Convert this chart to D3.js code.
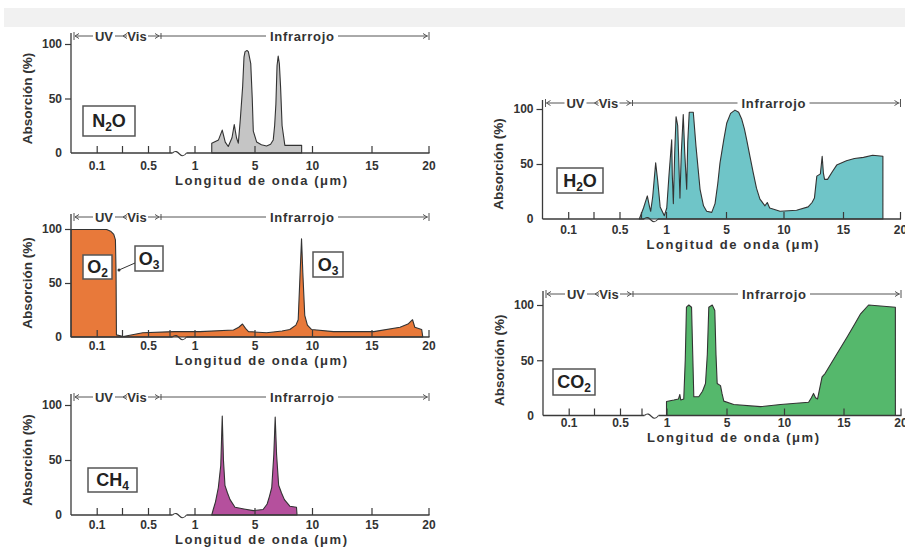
<!DOCTYPE html>
<html><head><meta charset="utf-8">
<script src="https://cdn.jsdelivr.net/npm/d3@7"></script>
<style>
body{margin:0;background:#fff;}
svg{display:block;font-family:"Liberation Sans",Arial,Helvetica,sans-serif;}
</style></head>
<body><svg id="c" width="905" height="554"></svg>
<script>
// ---------- data ----------
const xTickValues = [0.1, 0.3, 0.5, 0.7, 1, 5, 10, 15, 20];
const xTickLabels = ["0.1", "", "0.5", "", "1", "5", "10", "15", "20"];
const yTickValues = [0, 50, 100];
const bandLabels = ["UV", "Vis", "Infrarrojo"];
const xTitle = "Longitud de onda  (\u03bcm)";
const yTitle = "Absorci\u00f3n (%)";

// [wavelength (um), absorption (%)]
const n2oData = [[2.15,0],[2.15,9],[2.6,12],[2.85,21],[3.05,10],[3.25,6],[3.5,14],[3.65,26],[3.8,14],[3.92,9],[4.05,30],[4.21,61],[4.3,88],[4.37,93],[4.5,94],[4.59,93],[4.75,82],[4.85,50],[4.92,20],[5.19,10],[5.6,7.5],[6.05,6.5],[6.4,8],[6.63,12],[6.75,25],[6.86,45],[6.96,80],[7.06,89],[7.16,82],[7.27,60],[7.4,25],[7.64,7],[8.5,7],[9.1,7],[9.1,0]];
const o2o3Data = [[0,99.5],[0.179,99.5],[0.21,98],[0.235,95],[0.248,90],[0.253,60],[0.256,2],[0.31,0.5],[0.46,4],[0.76,5],[1.37,5],[3.6,6.5],[3.95,9],[4.2,12],[4.4,8],[4.6,5],[6.05,4],[7.4,5.5],[8.07,7],[8.6,11],[8.8,16],[8.95,55],[9.09,91],[9.2,60],[9.37,20],[9.6,11],[9.95,7],[11.8,5],[15.2,5],[17.5,9],[18.2,12],[18.6,16],[18.8,9],[19.4,7],[19.5,0]];
const ch4Data = [[2.15,0],[2.25,5],[2.4,12],[2.59,25],[2.75,45],[2.85,90],[2.93,50],[3.03,27],[3.2,20],[3.37,14],[3.7,7],[4.3,5.5],[4.92,4],[5.75,5],[6.1,10],[6.3,17],[6.5,25],[6.68,55],[6.8,89],[6.92,55],[7.1,27],[7.35,20],[7.6,14],[8.07,8],[8.65,7],[8.7,0]];
const h2oData = [[0.684,0],[0.73,10],[0.776,21],[0.8,12],[0.816,7],[0.84,20],[0.876,51],[0.9,35],[0.93,11],[0.98,3],[1.05,10],[1.2,40],[1.38,72],[1.42,40],[1.49,14],[1.58,60],[1.67,93],[1.78,85],[1.93,19],[2.02,60],[2.15,95],[2.25,60],[2.38,27],[2.45,70],[2.55,97],[2.82,97],[3.0,66],[3.27,27],[3.5,12],[3.71,7],[4.05,6],[4.27,14],[4.45,32],[4.6,51],[4.85,72],[5.06,87],[5.4,96],[5.78,99],[6.1,97],[6.36,91],[6.6,82],[6.8,72],[7.1,56],[7.37,42],[7.65,28],[7.95,18],[8.39,12],[8.59,15],[8.8,10],[9.7,7],[11.1,8],[12.07,11],[12.4,15],[12.6,19],[12.8,39],[13.1,41],[13.25,57],[13.35,42],[13.45,36],[13.7,36],[14.1,43],[14.47,49],[15.3,53],[16.0,55],[16.8,56],[17.6,58],[18.5,57],[18.5,0]];
const co2Data = [[1.0,0],[1.0,12.6],[1.49,14],[1.8,15],[1.89,19],[1.95,14],[2.15,15],[2.25,50],[2.33,98],[2.49,100],[2.67,98],[2.75,55],[2.82,17],[3.15,17],[3.4,22],[3.6,29],[3.72,55],[3.82,98],[4.05,100],[4.22,95],[4.3,55],[4.38,29],[4.6,27],[4.7,20],[4.82,13],[5.63,10],[7.95,8],[9.7,10],[12.07,12],[12.3,16],[12.48,20],[12.65,16],[12.82,15],[13.2,35],[13.45,38],[14.4,55],[15.32,71],[16.0,83],[16.5,92],[17.2,100],[19.55,98],[19.55,0]];

// ---------- layout ----------
const xDomain = [0, 0.1, 0.3, 0.5, 0.7, 1, 5, 10, 15, 20];
const xRangeRel = [0, 25.7, 51, 77, 98.5, 123.5, 183.5, 241, 300.5, 357.5];

const panels = [
  {name:"N2O", data:n2oData, fill:"#c5c5c5", x0:71, y0:153, y100:44, band:36, lab:170, tit:185,
   boxes:[{x:83,y:106,w:52,h:30,main:"N",sub:"2",post:"O"}]},
  {name:"O3", data:o2o3Data, fill:"#e8793a", x0:71, y0:337, y100:229, band:217, lab:350, tit:365,
   boxes:[{x:83,y:255,w:29,h:24,main:"O",sub:"2",post:""},{x:135,y:246,w:28,h:25,main:"O",sub:"3",post:""},{x:313,y:252,w:30,h:25,main:"O",sub:"3",post:""}]},
  {name:"CH4", data:ch4Data, fill:"#b5509d", x0:71, y0:515, y100:405, band:397, lab:529, tit:544,
   boxes:[{x:88,y:468,w:49,h:24,main:"CH",sub:"4",post:""}]},
  {name:"H2O", data:h2oData, fill:"#6fc5c8", x0:542.5, y0:219, y100:109, band:103, lab:234, tit:249,
   boxes:[{x:557,y:168,w:46,h:25,main:"H",sub:"2",post:"O"}]},
  {name:"CO2", data:co2Data, fill:"#55b86c", x0:543, y0:415.5, y100:305, band:294, lab:427, tit:442,
   boxes:[{x:553,y:369,w:42,h:26,main:"CO",sub:"2",post:""}]}
];

const svg = d3.select("#c");
svg.append("rect").attr("x",4).attr("y",8).attr("width",901).attr("height",19).attr("fill","#f1f1f1");

const ink = "#3a3a3a";

panels.forEach(p => {
  const x = d3.scaleLinear().domain(xDomain).range(xRangeRel.map(r => r + p.x0));
  const y = d3.scaleLinear().domain([0,100]).range([p.y0, p.y100]);
  const g = svg.append("g");

  // area
  const area = d3.area().x(d => x(d[0])).y0(y(0)).y1(d => y(d[1]));
  g.append("path").datum(p.data).attr("d", area)
    .attr("fill", p.fill).attr("stroke", "#333").attr("stroke-width", 1.1).attr("stroke-linejoin","round");

  // x axis (ticks upward)
  const xa = d3.axisBottom(x).tickValues(xTickValues).tickSizeInner(-7).tickSizeOuter(0)
    .tickFormat((d,i) => xTickLabels[i]);
  const gx = g.append("g").attr("transform", `translate(0,${p.y0})`).call(xa);
  gx.select(".domain").remove();
  gx.selectAll(".tick line").attr("stroke", ink).attr("stroke-width", 1.2);
  gx.selectAll(".tick text").attr("y", p.lab - p.y0).attr("dy", 0)
    .attr("font-size", 12).attr("font-weight", "bold").attr("fill", "#333")
    .attr("font-family", "Liberation Sans, Arial, sans-serif");

  // x axis line with break
  const xb1 = x(0.7) + 3, xb2 = x(1) - 8;
  g.append("line").attr("x1", p.x0).attr("x2", xb1).attr("y1", p.y0).attr("y2", p.y0).attr("stroke", ink).attr("stroke-width",1.3);
  g.append("line").attr("x1", xb2).attr("x2", x(20)+1).attr("y1", p.y0).attr("y2", p.y0).attr("stroke", ink).attr("stroke-width",1.3);
  g.append("path").attr("d", `M${xb1},${p.y0} C${xb1+3},${p.y0-3} ${xb1+5},${p.y0-1} ${xb1+7},${p.y0+1} S${xb2-3},${p.y0+4} ${xb2},${p.y0}`)
    .attr("fill","none").attr("stroke", ink).attr("stroke-width",1.1);

  // y axis
  const ya = d3.axisLeft(y).tickValues(yTickValues).tickSizeInner(6).tickSizeOuter(0).tickFormat(d3.format("d"));
  const gy = g.append("g").attr("transform", `translate(${p.x0},0)`).call(ya);
  gy.select(".domain").remove();
  gy.selectAll(".tick line").attr("stroke", ink).attr("stroke-width",1.2).attr("opacity", d => d===0 ? 0 : 1);
  gy.selectAll(".tick text").attr("x", -9).attr("font-size", 12).attr("font-weight","bold").attr("fill","#333")
    .attr("font-family", "Liberation Sans, Arial, sans-serif");
  g.append("line").attr("x1", p.x0).attr("x2", p.x0).attr("y1", p.band - 3).attr("y2", p.y0).attr("stroke", ink).attr("stroke-width",1.3);

  // band
  const bg = g.append("g").attr("stroke", "#555").attr("stroke-width", 1).attr("fill","none");
  const by = p.band;
  const X = r => p.x0 + r;
  const arrowL = (ax) => bg.append("path").attr("d", `M${ax+4},${by-2.5} L${ax},${by} L${ax+4},${by+2.5}`);
  const arrowR = (ax) => bg.append("path").attr("d", `M${ax-4},${by-2.5} L${ax},${by} L${ax-4},${by+2.5}`);
  bg.append("line").attr("x1", X(3)).attr("x2", X(3)).attr("y1", by-4).attr("y2", by+4);
  bg.append("line").attr("x1", X(4)).attr("x2", X(22)).attr("y1", by).attr("y2", by); arrowL(X(4));
  bg.append("line").attr("x1", X(44)).attr("x2", X(56)).attr("y1", by).attr("y2", by); arrowL(X(52));
  bg.append("line").attr("x1", X(77)).attr("x2", X(195)).attr("y1", by).attr("y2", by); arrowR(X(88));
  bg.append("line").attr("x1", X(90)).attr("x2", X(90)).attr("y1", by-3).attr("y2", by+3);
  bg.append("line").attr("x1", X(267)).attr("x2", X(357)).attr("y1", by).attr("y2", by); arrowR(X(356));
  bg.append("line").attr("x1", X(358)).attr("x2", X(358)).attr("y1", by-4).attr("y2", by+4);
  const tg = g.append("g").attr("font-size", 13).attr("font-weight","bold").attr("fill","#333").attr("text-anchor","middle");
  tg.append("text").attr("x", X(33)).attr("y", by+4.5).text(bandLabels[0]);
  tg.append("text").attr("x", X(66)).attr("y", by+4.5).text(bandLabels[1]);
  tg.append("text").attr("x", X(231)).attr("y", by+4.5).attr("textLength", 64).text(bandLabels[2]);

  // titles
  g.append("text").attr("x", X(190)).attr("y", p.tit).attr("text-anchor","middle")
    .attr("font-size", 13).attr("font-weight","bold").attr("fill","#333").attr("textLength", 172).text(xTitle);
  g.append("text").attr("transform", `translate(${p.x0-44},${(p.y0+p.y100)/2}) rotate(-90)`)
    .attr("text-anchor","middle").attr("dy", "0.35em")
    .attr("font-size", 13.5).attr("font-weight","bold").attr("fill","#333").text(yTitle);

  // label boxes
  p.boxes.forEach(b => {
    g.append("rect").attr("x", b.x).attr("y", b.y).attr("width", b.w).attr("height", b.h)
      .attr("fill","#fff").attr("stroke","#555").attr("stroke-width",1.5);
    const t = g.append("text").attr("x", b.x + b.w/2).attr("y", b.y + b.h/2 + 6).attr("text-anchor","middle")
      .attr("font-size", 18).attr("font-weight","bold").attr("fill","#222");
    t.append("tspan").text(b.main);
    t.append("tspan").attr("font-size", 12).attr("dy", 4).text(b.sub);
    if (b.post) t.append("tspan").attr("dy", -4).text(b.post);
  });

  if (p.name === "O3") {
    g.append("line").attr("x1", 135).attr("y1", 263).attr("x2", 119).attr("y2", 270).attr("stroke","#333").attr("stroke-width",1);
    g.append("circle").attr("cx", 119).attr("cy", 270).attr("r", 1.5).attr("fill","#333");
  }
});
</script></body></html>
